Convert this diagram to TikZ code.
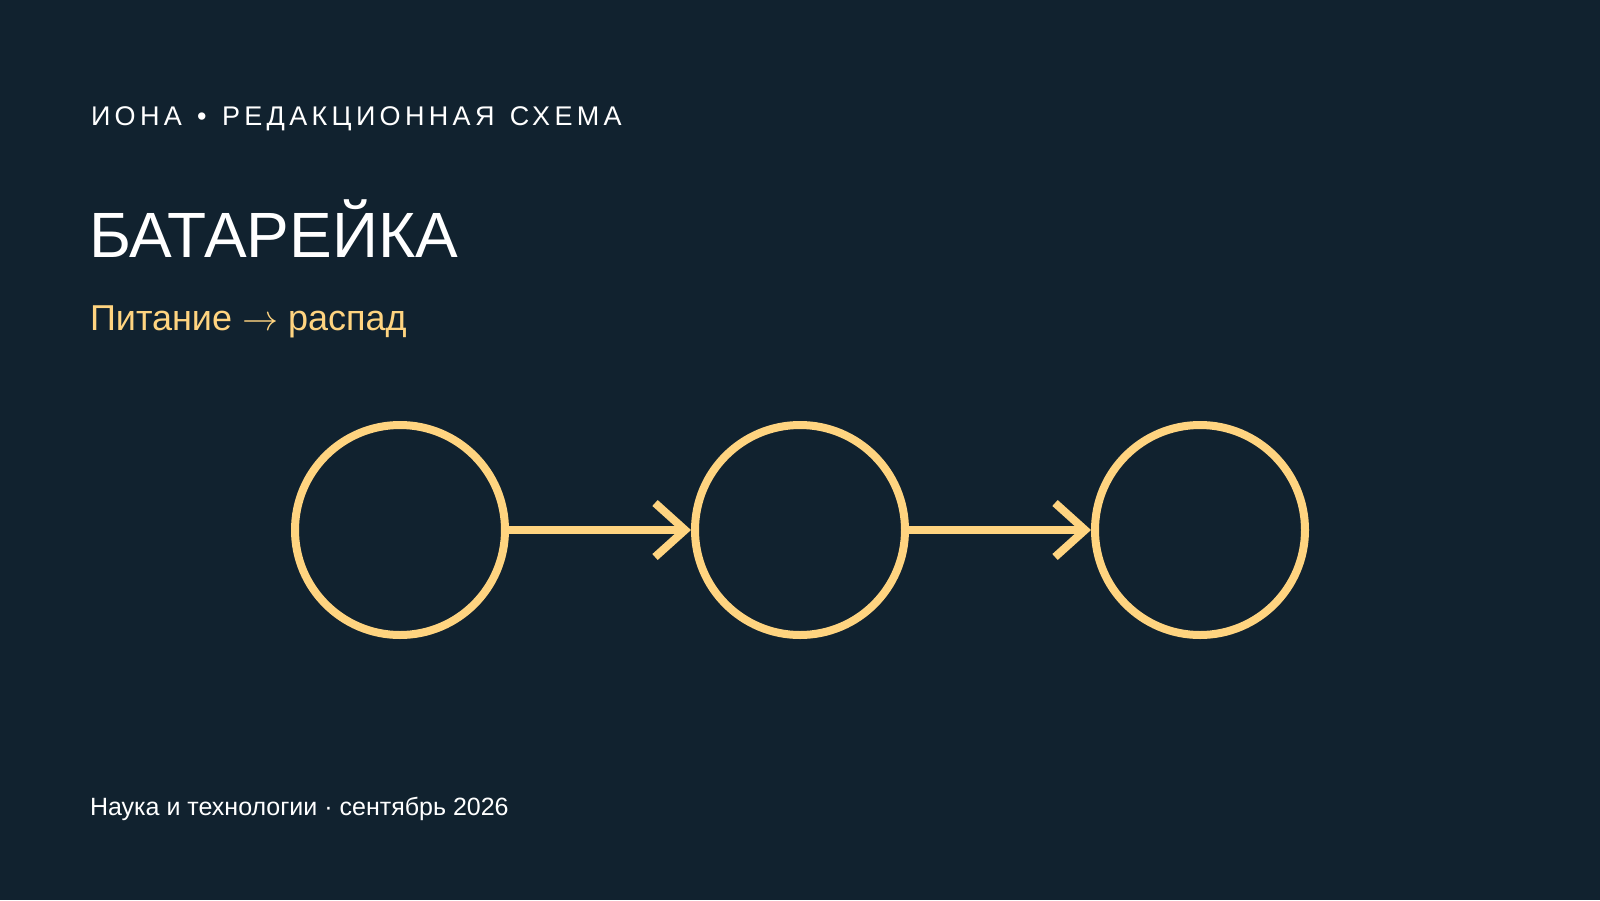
\RequirePackage{fix-cm}
\documentclass[tikz,border=0pt]{standalone}
\usepackage{fontspec}
\setmainfont{Liberation Sans}
\newfontfamily\kickerfont[LetterSpace=16,WordSpace=1.3]{Liberation Sans}
\usetikzlibrary{arrows.meta}
\definecolor{bgc}{HTML}{11222F}
\definecolor{gold}{HTML}{FFD480}
\tikzset{
  txt/.style={anchor=base west, inner sep=0pt, outer sep=0pt},
  stage/.style={circle, draw=gold, line width=8pt, minimum size=210pt, inner sep=0pt},
  flow/.style={draw=gold, line width=8pt, -{Straight Barb[length=30pt,width=54pt]}}
}
\begin{document}
\begin{tikzpicture}[x=1pt,y=-1pt]
\fill[bgc] (0,0) rectangle (1600,900);
\useasboundingbox (0,0) rectangle (1600,900);
\node[txt, text=white] (kicker) at (91,125) {\kickerfont\fontsize{27}{30}\selectfont ИОНА • РЕДАКЦИОННАЯ СХЕМА};
\node[txt, text=white] (title) at (89,257) {\fontsize{64}{70}\selectfont БАТАРЕЙКА};
\node[txt, text=gold] (sub) at (90,330) {\fontsize{36}{40}\selectfont Питание $\rightarrow$ распад};
\node[txt, text=white] (foot) at (90,815) {\fontsize{25}{28}\selectfont Наука и технологии · сентябрь 2026};
\node[stage] (c1) at (400,530) {};
\node[stage] (c2) at (800,530) {};
\node[stage] (c3) at (1200,530) {};
\draw[flow] (c1) -- (c2);
\draw[flow] (c2) -- (c3);
\end{tikzpicture}
\end{document}
